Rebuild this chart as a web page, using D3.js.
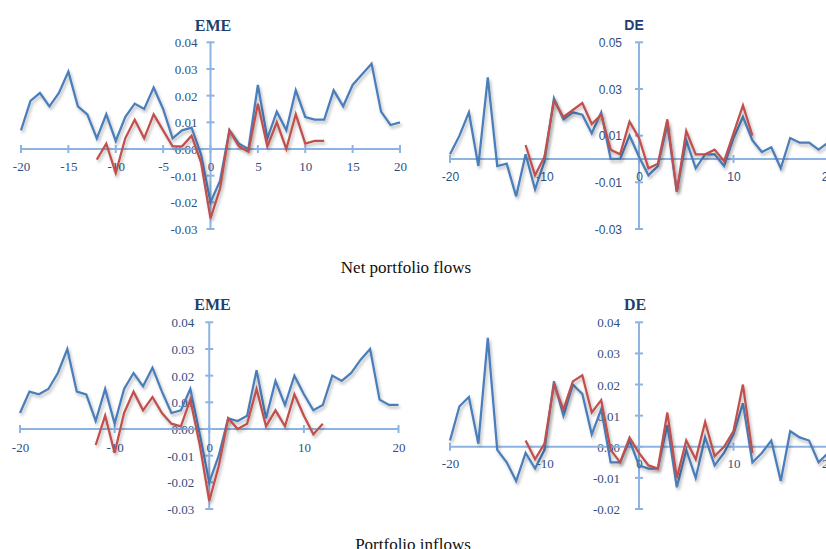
<!DOCTYPE html>
<html>
<head>
<meta charset="utf-8">
<script src="https://cdn.jsdelivr.net/npm/d3@7"></script>
<style>
  html, body { margin: 0; padding: 0; background: #fff; }
  svg { display: block; }
</style>
</head>
<body>
<svg id="chart" width="826" height="549"></svg>
<script>
// ---------- DATA ----------
const eventWindow = d3.range(-20, 21);      // -20 .. 20
const shortWindow = d3.range(-12, 13);      // -12 .. 12

// Net portfolio flows - EME
const netEmeBlue = [0.007, 0.018, 0.021, 0.016, 0.021, 0.029, 0.016, 0.013, 0.004, 0.013,
  0.003, 0.012, 0.017, 0.015, 0.023, 0.015, 0.004, 0.007, 0.008, -0.002,
  -0.020, -0.012, 0.007, 0.002, 0.000, 0.024, 0.004, 0.014, 0.007, 0.022,
  0.012, 0.011, 0.011, 0.022, 0.016, 0.024, 0.028, 0.032, 0.014, 0.009, 0.010];
const netEmeRed = [-0.004, 0.002, -0.009, 0.004, 0.011, 0.004, 0.013, 0.007, 0.001, 0.001,
  0.005, -0.005, -0.026, -0.015, 0.007, 0.001, -0.001, 0.017, 0.001, 0.010,
  0.000, 0.013, 0.002, 0.003, 0.003];

// Net portfolio flows - DE
const netDeBlue = [0.002, 0.010, 0.020, -0.003, 0.035, -0.003, -0.002, -0.016, 0.002, -0.013,
  -0.001, 0.026, 0.017, 0.020, 0.019, 0.011, 0.020, 0.000, 0.000, 0.010,
  0.001, -0.007, -0.003, 0.015, -0.014, 0.008, -0.004, 0.002, 0.002, -0.003,
  0.009, 0.018, 0.008, 0.003, 0.005, -0.004, 0.009, 0.007, 0.007, 0.004, 0.007];
const netDeRed = [0.006, -0.007, 0.001, 0.025, 0.018, 0.021, 0.024, 0.015, 0.019, 0.004,
  0.002, 0.016, 0.009, -0.004, -0.002, 0.017, -0.014, 0.012, 0.002, 0.002,
  0.004, -0.001, 0.011, 0.023, 0.010];

// Portfolio inflows - EME
const inEmeBlue = [0.006, 0.014, 0.013, 0.015, 0.021, 0.030, 0.014, 0.013, 0.003, 0.015,
  0.002, 0.015, 0.021, 0.016, 0.023, 0.014, 0.006, 0.007, 0.015, -0.002,
  -0.020, -0.010, 0.004, 0.003, 0.005, 0.022, 0.004, 0.018, 0.009, 0.020,
  0.013, 0.007, 0.009, 0.020, 0.018, 0.021, 0.026, 0.030, 0.011, 0.009, 0.009];
const inEmeRed = [-0.006, 0.005, -0.009, 0.006, 0.014, 0.007, 0.012, 0.006, 0.002, 0.001,
  0.011, -0.006, -0.027, -0.014, 0.004, 0.000, 0.002, 0.015, 0.001, 0.007,
  0.001, 0.013, 0.005, -0.002, 0.002];

// Portfolio inflows - DE
const inDeBlue = [0.002, 0.013, 0.016, 0.001, 0.035, -0.001, -0.005, -0.011, -0.002, -0.007,
  -0.001, 0.021, 0.010, 0.020, 0.017, 0.004, 0.012, -0.005, -0.005, 0.002,
  -0.006, -0.007, -0.007, 0.007, -0.013, -0.001, -0.010, 0.003, -0.006, -0.002,
  0.004, 0.014, -0.005, -0.002, 0.002, -0.011, 0.005, 0.003, 0.002, -0.005, -0.002];
const inDeRed = [0.002, -0.004, 0.001, 0.020, 0.012, 0.021, 0.023, 0.011, 0.015, -0.001,
  -0.005, 0.003, -0.002, -0.006, -0.007, 0.011, -0.010, 0.002, -0.004, 0.008,
  -0.003, 0.000, 0.005, 0.020, -0.002];

// Tick labels
const emeTopXTicks = [-20, -15, -10, -5, 0, 5, 10, 15, 20];
const decadeXTicks = [-20, -10, 0, 10, 20];
const emeYTicks = [0.04, 0.03, 0.02, 0.01, 0.00, -0.01, -0.02, -0.03];
const deTopYTicks = [0.05, 0.03, 0.01, -0.01, -0.03];
const deBottomYTicks = [0.04, 0.03, 0.02, 0.01, 0.00, -0.01, -0.02];

const panelTitles = ["EME", "DE", "EME", "DE"];
const captions = ["Net portfolio flows", "Portfolio inflows"];

// ---------- STYLE ----------
const BLUE = "#4a7ebb";
const RED = "#c0504d";
const AXIS = "#8db3e2";
const LABEL = "#2f4f7f";
const TITLE = "#1f3f6e";
const SERIF = "'Liberation Serif', 'Times New Roman', serif";
const SANS = "'Liberation Sans', Arial, sans-serif";

const svg = d3.select("#chart");

const defs = svg.append("defs");
const f = defs.append("filter").attr("id", "shadow")
  .attr("x", "-10%").attr("y", "-10%").attr("width", "120%").attr("height", "130%");
f.append("feDropShadow").attr("dx", 1.5).attr("dy", 2.5).attr("stdDeviation", 1.6)
  .attr("flood-color", "#000").attr("flood-opacity", 0.28);

const fmtY = d => (Math.abs(d) < 1e-9 ? 0 : d).toFixed(2);

function drawPanel(p) {
  const x = d3.scaleLinear().domain([-20, 20]).range(p.xr);
  const y = d3.scaleLinear().domain(p.yd).range(p.yr);
  const g = svg.append("g");

  // title
  g.append("text").attr("x", p.title[0]).attr("y", p.title[1])
    .attr("text-anchor", "middle").attr("font-family", p.titleFont)
    .attr("font-weight", "bold").attr("font-size", p.titleSize).attr("fill", TITLE)
    .text(p.name);

  // y axis (at x = 0)
  const yAxis = d3.axisLeft(y).tickValues(p.yTicks).tickSize(0).tickFormat(fmtY);
  const ya = g.append("g").attr("transform", `translate(${x(0)},0)`).call(yAxis);
  ya.select(".domain").remove();
  ya.selectAll("text").attr("x", -p.yLabOff).attr("dy", "0.35em")
    .attr("font-family", p.font).attr("font-size", p.fontSize).attr("fill", LABEL);
  g.append("line").attr("x1", x(0)).attr("x2", x(0))
    .attr("y1", y(p.yTicks[0])).attr("y2", y(p.yTicks[p.yTicks.length - 1]))
    .attr("stroke", AXIS).attr("stroke-width", 2);
  g.selectAll(".ytk").data(p.yTicks).join("line")
    .attr("x1", x(0) - 4).attr("x2", x(0) + 4)
    .attr("y1", d => y(d)).attr("y2", d => y(d))
    .attr("stroke", AXIS).attr("stroke-width", 2);

  // x axis (at y = 0)
  const xAxis = d3.axisBottom(x).tickValues(p.xTicks).tickSize(0).tickFormat(d3.format("d"));
  const xa = g.append("g").attr("transform", `translate(0,${y(0)})`).call(xAxis);
  xa.select(".domain").remove();
  xa.selectAll("text").attr("y", p.xLabOff).attr("dy", "0.35em")
    .attr("font-family", p.font).attr("font-size", p.fontSize).attr("fill", LABEL)
    .text(d => String(d).replace("\u2212", "-"));
  g.append("line").attr("x1", x(-20)).attr("x2", x(20))
    .attr("y1", y(0)).attr("y2", y(0))
    .attr("stroke", AXIS).attr("stroke-width", 2);
  g.selectAll(".xtk").data(p.xTicks).join("line")
    .attr("x1", d => x(d)).attr("x2", d => x(d))
    .attr("y1", y(0) - 4).attr("y2", y(0) + 4)
    .attr("stroke", AXIS).attr("stroke-width", 2);

  // lines
  const line = d3.line().x(d => x(d[0])).y(d => y(d[1]));
  g.append("path").datum(d3.zip(eventWindow, p.blue))
    .attr("d", line).attr("fill", "none").attr("stroke", BLUE)
    .attr("stroke-width", 2.25).attr("stroke-linejoin", "miter").attr("filter", "url(#shadow)");
  g.append("path").datum(d3.zip(shortWindow, p.red))
    .attr("d", line).attr("fill", "none").attr("stroke", RED)
    .attr("stroke-width", 2.25).attr("stroke-linejoin", "miter").attr("filter", "url(#shadow)");
}

drawPanel({ name: panelTitles[0], xr: [21, 400], yd: [0.04, -0.03], yr: [42.3, 229],
  xTicks: emeTopXTicks, yTicks: emeYTicks, blue: netEmeBlue, red: netEmeRed,
  font: SERIF, fontSize: 13, titleFont: SERIF, titleSize: 16, title: [213, 31],
  yLabOff: 13, xLabOff: 17 });

drawPanel({ name: panelTitles[1], xr: [450, 828], yd: [0.05, -0.03], yr: [42.3, 229],
  xTicks: decadeXTicks, yTicks: deTopYTicks, blue: netDeBlue, red: netDeRed,
  font: SANS, fontSize: 12, titleFont: SANS, titleSize: 14, title: [634, 30],
  yLabOff: 17, xLabOff: 18 });

drawPanel({ name: panelTitles[2], xr: [20, 398.5], yd: [0.04, -0.03], yr: [322.3, 509],
  xTicks: decadeXTicks, yTicks: emeYTicks, blue: inEmeBlue, red: inEmeRed,
  font: SERIF, fontSize: 13, titleFont: SERIF, titleSize: 16, title: [212.5, 310],
  yLabOff: 15, xLabOff: 18 });

drawPanel({ name: panelTitles[3], xr: [450, 828], yd: [0.04, -0.02], yr: [322.3, 509],
  xTicks: decadeXTicks, yTicks: deBottomYTicks, blue: inDeBlue, red: inDeRed,
  font: SERIF, fontSize: 13, titleFont: SERIF, titleSize: 16, title: [635, 310],
  yLabOff: 19, xLabOff: 17 });

// captions
svg.append("text").attr("x", 406).attr("y", 272.5).attr("text-anchor", "middle")
  .attr("font-family", SERIF).attr("font-size", 17).attr("fill", "#111")
  .text(captions[0]);
svg.append("text").attr("x", 413).attr("y", 550).attr("text-anchor", "middle")
  .attr("font-family", SERIF).attr("font-size", 17).attr("fill", "#111")
  .text(captions[1]);
</script>
</body>
</html>
